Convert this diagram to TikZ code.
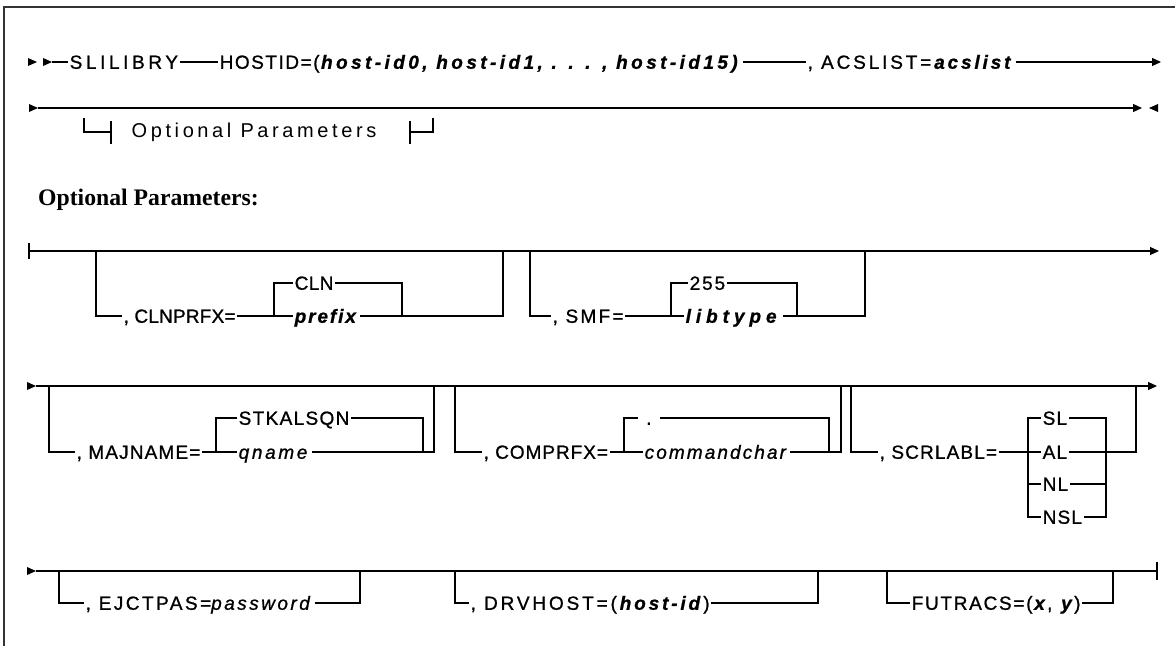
\documentclass[tikz,border=0pt]{standalone}
\usepackage{fontspec}
\usetikzlibrary{arrows.meta}
\newfontfamily\railfont[LetterSpace=6, FakeBold=1]{Liberation Sans}
\newfontfamily\reffont[LetterSpace=18]{Liberation Sans}
\newfontfamily\headfont{Liberation Serif}
\newcommand{\var}[1]{\textbf{\textit{#1}}}
\newcommand{\wide}[2]{{\addfontfeature{LetterSpace=#1}#2}}

\tikzset{
  rail/.style={line width=1.2pt},
  railend/.style={rail,-{Triangle[length=9pt,width=8pt]}},
  kw/.style={inner ysep=0pt, inner xsep=1.5pt, text height=13.5pt, text depth=0pt,
    anchor=west, font=\fontsize{19}{21}\railfont},
}

\begin{document}
\begin{tikzpicture}[x=1pt,y=-1pt]
  \useasboundingbox (0,0) rectangle (1175,646);
  % frame
  \draw[line width=2pt, black!80] (4,646) -- (4,7) -- (1175,7);

  % row 1
  \coordinate (r1s) at (52,62);
  \coordinate (r1e) at (1161,62);
  \fill (28,58) -- (37,62) -- (28,66) -- cycle;
  \fill (43,58) -- (52,62) -- (43,66) -- cycle;
  \node[kw] (slilibry) at (68,62) {\wide{19}{SLILIBRY}};
  \node[kw] (hostid) at (218,62) {\wide{8}{HOSTID=(}\wide{18}{\var{host-id0, host-id1, . . . , host-id15)}}};
  \node[kw] (acslist) at (806,62) {\wide{15}{, ACSLIST=\var{acslist}}};
  \draw[rail] (r1s) -- (slilibry.west);
  \draw[rail] (slilibry.east) -- (hostid.west);
  \draw[rail] (hostid.east) -- (acslist.west);
  \draw[railend] (acslist.east) -- (r1e);

  % row 2
  \coordinate (r2s) at (38,108);
  \coordinate (r2e) at (1142,108);
  \fill (29,104) -- (38,108) -- (29,112) -- cycle;
  \draw[railend] (r2s) -- (r2e);
  \fill (1158,104) -- (1149,108) -- (1158,112) -- cycle;
  \node[kw, font=\fontsize{20}{22}\reffont] (optref) at (130,131) {Optional Parameters};
  \coordinate (o1) at (84,118);
  \coordinate (o2) at (111,132);
  \coordinate (o3) at (410,132);
  \coordinate (o4) at (433,118);
  \draw[rail] (o1) |- (o2);
  \draw[rail] (111,121) -- (111,144);
  \draw[rail] (o3) -| (o4);
  \draw[rail] (410,121) -- (410,144);

  \node[anchor=west, inner sep=0pt, font=\fontsize{23.7}{26}\headfont\bfseries] (opthead) at (38,200) {Optional Parameters:};

  % row 3
  \coordinate (r3s) at (29,251);
  \coordinate (r3e) at (1159,251);
  \draw[rail] (29,243) -- (29,259);
  \draw[railend] (r3s) -- (r3e);
  % CLNPRFX
  \coordinate (cln1) at (96,251);
  \coordinate (cln2) at (274,283);
  \coordinate (cln3) at (402,283);
  \coordinate (cln4) at (503,251);
  \node[kw] (clnprfx) at (122,316) {\wide{1}{, CLNPRFX=}};
  \node[kw] (cln) at (293,283) {\wide{2}{CLN}};
  \node[kw] (prefix) at (293,316) {\wide{10}{\var{prefix}}};
  \draw[rail] (cln1) |- (clnprfx.west);
  \draw[rail] (clnprfx.east) -- (prefix.west);
  \draw[rail] (cln.west) -- (cln2) |- (prefix.west);
  \draw[rail] (cln.east) -- (cln3) |- (prefix.east);
  \draw[rail] (prefix.east) -| (cln4);
  % SMF
  \coordinate (smf1) at (530,251);
  \coordinate (smf2) at (671,283);
  \coordinate (smf3) at (797,283);
  \coordinate (smf4) at (865,251);
  \node[kw] (smf) at (551,316) {\wide{12}{, SMF=}};
  \node[kw] (d255) at (688,283) {\wide{10}{255}};
  \node[kw] (libtype) at (684,316) {\wide{26}{\var{libtype}}};
  \draw[rail] (smf1) |- (smf.west);
  \draw[rail] (smf.east) -- (libtype.west);
  \draw[rail] (d255.west) -- (smf2) |- (libtype.west);
  \draw[rail] (d255.east) -- (smf3) |- (libtype.east);
  \draw[rail] (libtype.east) -| (smf4);

  % row 4
  \coordinate (r4s) at (36,386);
  \coordinate (r4e) at (1157,386);
  \fill (27,382) -- (36,386) -- (27,390) -- cycle;
  \draw[railend] (r4s) -- (r4e);
  % MAJNAME
  \coordinate (maj1) at (49,386);
  \coordinate (maj2) at (216,418);
  \coordinate (maj3) at (423,418);
  \coordinate (maj4) at (434,386);
  \node[kw] (majname) at (75,452) {, MAJNAME=};
  \node[kw] (stkalsqn) at (237,418) {\wide{7}{STKALSQN}};
  \node[kw] (qname) at (237,452) {\wide{14}{\textit{qname}}};
  \draw[rail] (maj1) |- (majname.west);
  \draw[rail] (majname.east) -- (qname.west);
  \draw[rail] (stkalsqn.west) -- (maj2) |- (qname.west);
  \draw[rail] (stkalsqn.east) -- (maj3) |- (qname.east);
  \draw[rail] (qname.east) -| (maj4);
  % COMPRFX
  \coordinate (cmp1) at (455,386);
  \coordinate (cmp2) at (624,418);
  \coordinate (cmp3) at (829,418);
  \coordinate (cmp4) at (841,386);
  \node[kw] (comprfx) at (482,452) {\wide{5}{, COMPRFX=}};
  \node[kw, inner xsep=8pt] (dot) at (638,418) {.};
  \node[kw] (cmdchar) at (643,452) {\wide{11}{\textit{commandchar}}};
  \draw[rail] (cmp1) |- (comprfx.west);
  \draw[rail] (comprfx.east) -- (cmdchar.west);
  \draw[rail] (dot.west) -- (cmp2) |- (cmdchar.west);
  \draw[rail] (dot.east) -- (cmp3) |- (cmdchar.east);
  \draw[rail] (cmdchar.east) -| (cmp4);
  % SCRLABL
  \coordinate (scr1) at (851,386);
  \coordinate (scr2) at (1028,418);
  \coordinate (scr3) at (1106,418);
  \coordinate (scr4) at (1136,386);
  \node[kw] (scrlabl) at (878,452) {, SCRLABL=};
  \node[kw] (sl) at (1041,418) {SL};
  \node[kw] (al) at (1041,452) {AL};
  \node[kw] (nl) at (1041,484) {NL};
  \node[kw] (nsl) at (1041,517) {NSL};
  \draw[rail] (scr1) |- (scrlabl.west);
  \draw[rail] (scrlabl.east) -- (al.west);
  \draw[rail] (sl.west) -- (scr2) |- (nsl.west);
  \draw[rail] (nl.west) -- (scr2 |- nl.west);
  \draw[rail] (sl.east) -- (scr3) |- (nsl.east);
  \draw[rail] (nl.east) -- (scr3 |- nl.east);
  \draw[rail] (al.east) -| (scr4);

  % row 5
  \coordinate (r5s) at (36,571);
  \coordinate (r5e) at (1157,571);
  \fill (27,567) -- (36,571) -- (27,575) -- cycle;
  \draw[rail] (r5s) -- (r5e);
  \draw[rail] (1157,562) -- (1157,580);
  % EJCTPAS
  \coordinate (ej1) at (59,571);
  \coordinate (ej2) at (360,571);
  \node[kw] (ejctpas) at (84,603) {\wide{13}{, EJCTPAS=\textit{password}}};
  \draw[rail] (ej1) |- (ejctpas.west);
  \draw[rail] (ejctpas.east) -| (ej2);
  % DRVHOST
  \coordinate (dr1) at (455,571);
  \coordinate (dr2) at (818,571);
  \node[kw] (drvhost) at (469,603) {\wide{15}{, DRVHOST=(\var{host-id})}};
  \draw[rail] (dr1) |- (drvhost.west);
  \draw[rail] (drvhost.east) -| (dr2);
  % FUTRACS
  \coordinate (fu1) at (887,571);
  \coordinate (fu2) at (1113,571);
  \node[kw] (futracs) at (910,603) {\wide{9}{FUTRACS=(\var{x}, \var{y})}};
  \draw[rail] (fu1) |- (futracs.west);
  \draw[rail] (futracs.east) -| (fu2);
\end{tikzpicture}
\end{document}
